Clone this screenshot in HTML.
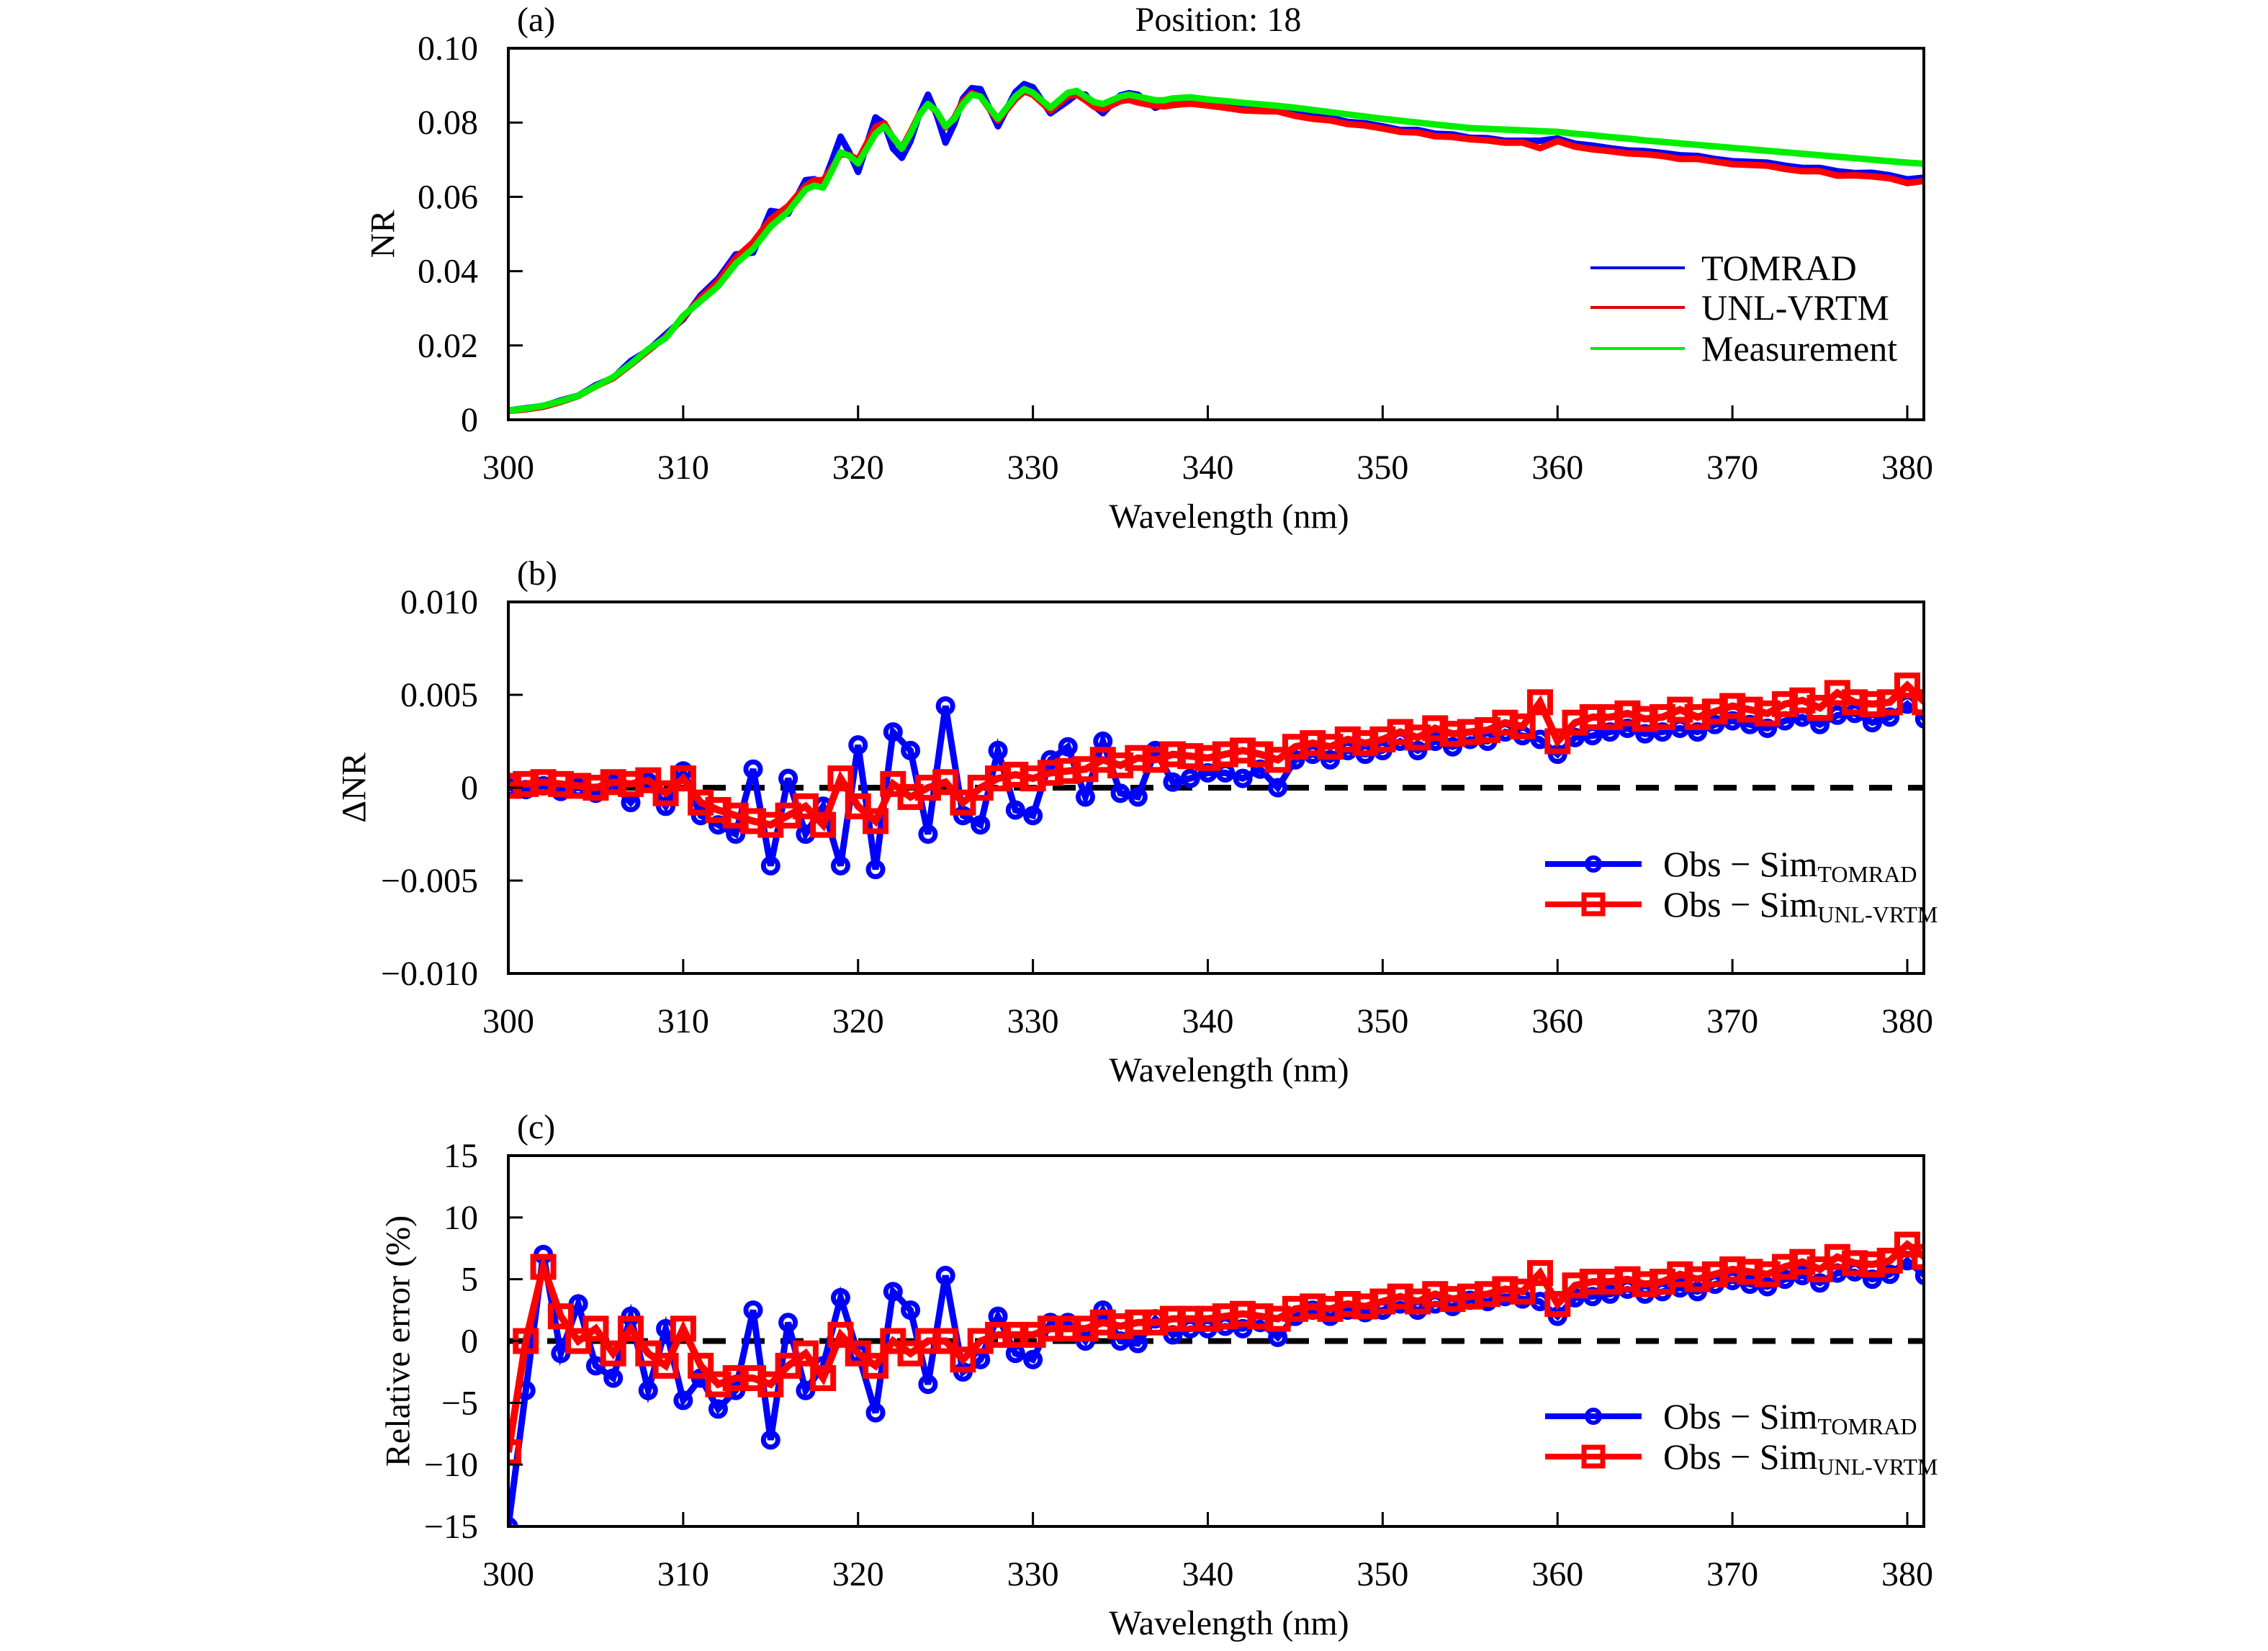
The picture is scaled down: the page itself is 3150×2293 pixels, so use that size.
<!DOCTYPE html>
<html><head><meta charset="utf-8"><style>
html,body{margin:0;padding:0;background:#fff;}
svg{display:block;font-family:"Liberation Serif","Times New Roman",serif;}
</style></head><body>
<svg id="fig" width="3150" height="2293" viewBox="0 0 3150 2293" xmlns="http://www.w3.org/2000/svg"></svg>
<script>
// ---------- DATA ----------
const waveA = [300,301,302,303,304,305,306,307,308,309,310,311,312,313,314,315,316,
316.5,317,317.5,318,318.5,319,319.5,320,320.5,321,321.5,322,322.5,323,323.5,324,324.5,325,325.5,326,326.5,327,327.5,328,328.5,329,329.5,330,330.5,331,331.5,332,332.5,333,333.5,334,334.5,335,335.5,336,336.5,337,337.5,338,
339,340,341,342,343,344,345,346,347,348,349,350,351,352,353,354,355,356,357,358,359,360,361,362,363,364,365,366,367,368,369,370,371,372,373,374,375,376,377,378,379,380,381];
const nrMeasurement = [.0025,.003,.0038,.005,.0065,.009,.0115,.015,.019,.022,.028,.032,.036,.042,.046,.052,.056,
.059,.062,.063,.0625,.067,.072,.071,.069,.073,.077,.079,.076,.073,.077,.082,.085,.083,.079,.081,.085,.0875,.087,.084,.081,.084,.087,.089,.088,.086,.084,.086,.088,.0885,.087,.0855,.085,.086,.087,.0875,.087,.0865,.086,.086,.0865,
.0868,.0862,.0858,.0853,.0849,.0845,.084,.0834,.0828,.0822,.0816,.081,.0805,.08,.0795,.079,.0785,.0783,.0781,.0779,.0777,.0775,.077,.0766,.0761,.0757,.0752,.0748,.0744,.074,.0736,.0732,.0728,.0724,.072,.0716,.0712,.0708,.0704,.07,.0696,.0692,.0689];

const waveB = [];
for (let w = 300; w <= 381; w++) waveB.push(w);
const dnrTomrad = [0,-0.1,0.1,-0.2,0,-0.3,0.2,-0.8,0.3,-1.0,0.9,-1.5,-2.0,-2.5,1.0,-4.2,0.5,-2.5,-1.0,-4.2,2.3,-4.4,3.0,2.0,-2.5,4.4,-1.5,-2.0,2.0,-1.2,-1.5,1.5,2.2,-0.5,2.5,-0.3,-0.5,2.0,0.3,0.5,0.8,0.8,0.5,1.0,0,1.5,1.8,1.5,2.0,1.8,2.0,2.5,2.0,2.5,2.2,2.6,2.5,3.0,2.8,2.6,1.8,2.7,2.8,3.0,3.2,2.9,3.0,3.2,3.0,3.4,3.6,3.4,3.2,3.6,3.8,3.4,3.9,4.0,3.5,3.8,4.5,3.7];
const dnrUnl = [0.1,0.2,0.3,0.2,0.1,0,0.3,0.2,0.4,-0.3,0.5,-0.8,-1.2,-1.5,-1.8,-2.0,-1.5,-1.0,-2.0,0.5,-1.0,-1.8,0.2,-0.5,0,0.3,-0.8,0,0.5,0.7,0.5,0.8,0.9,1.0,1.5,1.2,1.6,1.5,1.8,1.7,1.6,1.8,2.0,1.8,1.5,2.2,2.4,2.2,2.6,2.4,2.6,3.0,2.7,3.2,2.9,3.0,3.1,3.5,3.3,4.6,2.5,3.5,3.8,3.8,4.0,3.7,3.8,4.2,3.8,4.1,4.4,4.2,4.0,4.5,4.7,4.3,5.1,4.6,4.5,4.6,5.5,4.6];
const relTomrad = [-15,-4,7,-1,3,-2,-3,2,-4,1,-4.8,-3,-5.5,-4,2.5,-8,1.5,-4,-2,3.5,-1,-5.8,4,2.5,-3.5,5.3,-2.5,-1.5,2,-1,-1.5,1.5,1.5,0,2.5,0,-0.2,1.8,0.5,1,1,1.2,1,1.5,0.3,2,2.5,2,2.5,2.3,2.5,3,2.5,3,2.8,3.3,3.2,3.6,3.4,3.2,2,3.5,3.6,3.8,4.2,3.8,4,4.3,4,4.6,4.9,4.6,4.4,5,5.3,4.7,5.5,5.6,5,5.4,6.5,5.3];
const relUnl = [-9,0,6,2,0,1,-1,1,-1,-2,1,-2,-3.5,-3,-3,-3.5,-2,-1,-3,0.5,-1,-2,0,-1,0,0,-1.5,0,0.5,0.5,0.5,1,1,1,1.5,1.2,1.5,1.5,1.8,1.8,1.8,2,2.2,2,1.8,2.6,2.8,2.6,3,2.8,3.2,3.6,3.2,3.8,3.4,3.6,3.8,4.2,4,5.5,3,4.5,4.8,4.8,5,4.6,4.8,5.4,5,5.4,5.8,5.6,5.4,6,6.4,5.8,6.8,6.3,6.2,6.5,7.8,6.8];

const xTicks = [300,310,320,330,340,350,360,370,380];
const yTicksA = [0,0.02,0.04,0.06,0.08,0.10];
const yTickLabelsA = ["0","0.02","0.04","0.06","0.08","0.10"];
const yTicksB = [-0.010,-0.005,0,0.005,0.010];
const yTickLabelsB = ["\u22120.010","\u22120.005","0","0.005","0.010"];
const yTicksC = [-15,-10,-5,0,5,10,15];
const yTickLabelsC = ["\u221215","\u221210","\u22125","0","5","10","15"];

// ---------- HELPERS ----------
const NS = "http://www.w3.org/2000/svg";
const svg = document.getElementById("fig");
function mk(tag, attrs, parent) {
  const e = document.createElementNS(NS, tag);
  for (const k in attrs) e.setAttribute(k, attrs[k]);
  (parent || svg).appendChild(e);
  return e;
}
const X0 = 706, X1 = 2672;
function xs(w) { return X0 + (w - 300) * (2649 - 706) / 80; }
function interp(wArr, vArr, w) {
  if (w <= wArr[0]) return vArr[0];
  for (let i = 1; i < wArr.length; i++) {
    if (w <= wArr[i]) { const t = (w - wArr[i-1]) / (wArr[i] - wArr[i-1]); return vArr[i-1] + t * (vArr[i] - vArr[i-1]); }
  }
  return vArr[vArr.length - 1];
}

function panel(id, top, bottom, ymin, ymax, ticks, labels, letter, ytitle, ytitleX) {
  const g = mk("g", {});
  
  
  const ys = v => bottom - (v - ymin) / (ymax - ymin) * (bottom - top);
  const cp = mk("clipPath", {id: "clip-" + id}, g);
  mk("rect", {x: X0, y: top, width: X1 - X0, height: bottom - top}, cp);
  const plot = mk("g", {"clip-path": "url(#clip-" + id + ")"}, g);
  
  
  const fr = mk("rect", {x: X0, y: top, width: X1 - X0, height: bottom - top, fill: "none", stroke: "#000", "stroke-width": 4}, g);
  
  
  xTicks.forEach(t => {
    const x = xs(t);
    if (t > 300) {
      const tk = mk("line", {x1: x, x2: x, y1: bottom, y2: bottom - 20, stroke: "#000", "stroke-width": 3}, g);
      
      
    }
    const tl = mk("text", {x: x, y: bottom + 82, "font-size": 48, "text-anchor": "middle"}, g);
    tl.textContent = t;
    
    
  });
  ticks.forEach((t, i) => {
    const y = ys(t);
    if (i > 0 && i < ticks.length - 1) {
      const tk = mk("line", {x1: X0, x2: X0 + 20, y1: y, y2: y, stroke: "#000", "stroke-width": 3}, g);
      
      
    }
    const tl = mk("text", {x: 664, y: y + 16, "font-size": 48, "text-anchor": "end"}, g);
    tl.textContent = labels[i];
    
    
  });
  const xt = mk("text", {x: 1707, y: bottom + 150, "font-size": 48, "text-anchor": "middle"}, g);
  xt.textContent = "Wavelength (nm)";
  
  
  const yc = (top + bottom) / 2;
  const yt = mk("text", {x: ytitleX, y: yc, "font-size": 48, "text-anchor": "middle", transform: "rotate(-90 " + ytitleX + " " + yc + ")", "dominant-baseline": "central"}, g);
  yt.textContent = ytitle;
  
  
  const pl = mk("text", {x: 718, y: top - 24, "font-size": 48}, g);
  pl.textContent = "(" + letter + ")";
  
  
  return {g, plot, ys};
}

function linePath(wArr, vArr, ys) {
  return wArr.map((w, i) => (i ? "L" : "M") + xs(w).toFixed(1) + " " + ys(vArr[i]).toFixed(1)).join(" ");
}

// ---------- PANEL A ----------
const A = panel("a", 67, 583, 0, 0.10, yTicksA, yTickLabelsA, "a", "NR", 532);
const pos = mk("text", {x: 1692, y: 43, "font-size": 48, "text-anchor": "middle"}, A.g);
pos.textContent = "Position: 18";


const simT = waveA.map((w, i) => nrMeasurement[i] - interp(waveB, dnrTomrad, w) * 1e-3);
const simU = waveA.map((w, i) => nrMeasurement[i] - interp(waveB, dnrUnl, w) * 1e-3);
const lT = mk("path", {d: linePath(waveA, simT, A.ys), fill: "none", stroke: "#0000ff", "stroke-width": 9, "stroke-linejoin": "round"}, A.plot);


const lU = mk("path", {d: linePath(waveA, simU, A.ys), fill: "none", stroke: "#ff0000", "stroke-width": 9, "stroke-linejoin": "round"}, A.plot);


const lM = mk("path", {d: linePath(waveA, nrMeasurement, A.ys), fill: "none", stroke: "#00ee00", "stroke-width": 9, "stroke-linejoin": "round"}, A.plot);


[["TOMRAD", "#0000dd", 372], ["UNL-VRTM", "#dd0000", 427], ["Measurement", "#00ee00", 484]].forEach(r => {
  const lg = mk("g", {}, A.g);
  
  
  mk("line", {x1: 2209, x2: 2340, y1: r[2], y2: r[2], stroke: r[1], "stroke-width": 4}, lg);
  const t = mk("text", {x: 2363, y: r[2] + 17, "font-size": 50}, lg);
  t.textContent = r[0];
});

// ---------- PANELS B, C ----------
function errPanel(P, tVals, uVals, scale, legY) {
  const zero = mk("line", {x1: X0, x2: X1, y1: P.ys(0), y2: P.ys(0), stroke: "#000", "stroke-width": 8, "stroke-dasharray": "32 22"}, P.plot);
  
  
  const tv = tVals.map(v => v * scale), uv = uVals.map(v => v * scale);
  const bl = mk("path", {d: linePath(waveB, tv, P.ys), fill: "none", stroke: "#0000ff", "stroke-width": 9}, P.plot);
  
  
  waveB.forEach((w, i) => {
    const c = mk("circle", {cx: xs(w), cy: P.ys(tv[i]), r: 10, fill: "none", stroke: "#0000ff", "stroke-width": 7}, P.plot);
    
    
  });
  const rl = mk("path", {d: linePath(waveB, uv, P.ys), fill: "none", stroke: "#ff0000", "stroke-width": 10}, P.plot);
  
  
  waveB.forEach((w, i) => {
    const s = mk("rect", {x: xs(w) - 14, y: P.ys(uv[i]) - 14, width: 28, height: 28, fill: "none", stroke: "#ff0000", "stroke-width": 8}, P.plot);
    
    
  });
  const e1 = mk("g", {}, P.g);
  
  
  mk("line", {x1: 2146, x2: 2280, y1: legY, y2: legY, stroke: "#0000ff", "stroke-width": 8}, e1);
  mk("circle", {cx: 2213, cy: legY, r: 9, fill: "none", stroke: "#0000ff", "stroke-width": 6}, e1);
  const t1 = mk("text", {x: 2310, y: legY + 17, "font-size": 50}, e1);
  t1.innerHTML = 'Obs \u2212 Sim<tspan font-size="32" dy="8">TOMRAD</tspan>';
  const e2 = mk("g", {}, P.g);
  
  
  mk("line", {x1: 2146, x2: 2280, y1: legY + 56, y2: legY + 56, stroke: "#ff0000", "stroke-width": 8}, e2);
  mk("rect", {x: 2200, y: legY + 43, width: 26, height: 26, fill: "none", stroke: "#ff0000", "stroke-width": 7}, e2);
  const t2 = mk("text", {x: 2310, y: legY + 73, "font-size": 50}, e2);
  t2.innerHTML = 'Obs \u2212 Sim<tspan font-size="32" dy="8">UNL-VRTM</tspan>';
}
const B = panel("b", 836, 1352, -0.010, 0.010, yTicksB, yTickLabelsB, "b", "\u0394NR", 492);
errPanel(B, dnrTomrad, dnrUnl, 1e-3, 1200);
const C = panel("c", 1605, 2120, -15, 15, yTicksC, yTickLabelsC, "c", "Relative error (%)", 553);
errPanel(C, relTomrad, relUnl, 1, 1967);
</script>
</body></html>
